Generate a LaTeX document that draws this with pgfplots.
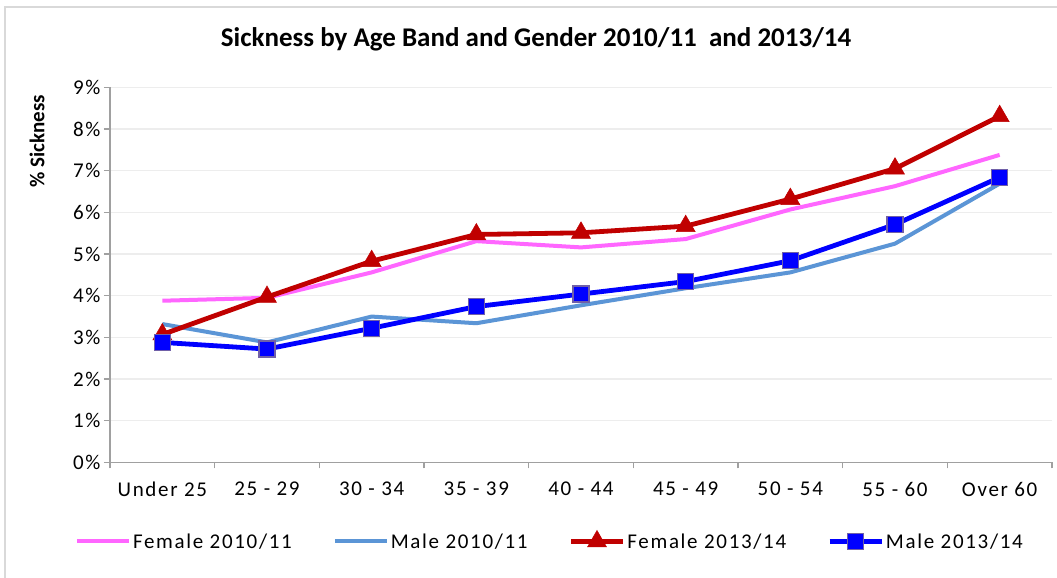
\documentclass[border=0pt]{standalone}
\usepackage{fontspec}
\setmainfont{Carlito}
\newfontfamily\spacedfont{Carlito}[LetterSpace=8]
\usepackage{pgfplots}
\pgfplotsset{compat=1.18}
\definecolor{femaleA}{HTML}{FF66FF}
\definecolor{maleA}{HTML}{5B95D6}
\definecolor{femaleB}{HTML}{C00000}
\definecolor{maleB}{HTML}{0000FF}
\definecolor{markedge}{HTML}{7060A8}
\definecolor{gridgray}{HTML}{EDEDED}
\definecolor{axisgray}{HTML}{A0A0A0}
\definecolor{framegray}{HTML}{D9D9D9}

\begin{document}
\begin{tikzpicture}[x=1pt,y=1pt]
\useasboundingbox (0,0) rectangle (1057,578);
\fill[white] (0,0) rectangle (1057,578);
\draw[framegray, line width=1.5pt] (5,-10) -- (5,571) -- (1070,571);
\begin{axis}[
  at={(110pt,115.6pt)}, anchor=south west,
  scale only axis, width=942pt, height=375pt,
  xmin=-0.5, xmax=8.5, ymin=0, ymax=9,
  axis x line*=bottom, axis y line*=left,
  axis line style={axisgray, line width=1.5pt},
  tick align=outside,
  major tick length=6pt,
  tick style={axisgray, line width=1.5pt},
  ytick={0,...,9},
  yticklabels={0\%,1\%,2\%,3\%,4\%,5\%,6\%,7\%,8\%,9\%},
  ymajorgrids,
  major grid style={gridgray, line width=1.2pt},
  xtick={-0.5,0.5,...,8.5},
  xticklabels={},
  extra x ticks={0,1,2,3,4,5,6,7,8},
  extra x tick labels={Under 25,25 - 29,30 - 34,35 - 39,40 - 44,45 - 49,50 - 54,55 - 60,Over 60},
  extra x tick style={major tick length=0pt, grid=none, xticklabel style={yshift=-16pt}},
  ticklabel style={font=\spacedfont\fontsize{21}{24}\selectfont, black},
  legend style={at={(0.467,-0.2096)}, anchor=center, draw=none, fill=none,
    legend columns=4, font=\spacedfont\fontsize{21}{24}\selectfont,
    /tikz/every even column/.append style={column sep=39pt}},
  legend image code/.code={\draw[mark repeat=2,mark phase=2,#1] plot coordinates {(0pt,0pt)(26pt,0pt)(52pt,0pt)};},
]
\addplot[femaleA, line width=4pt, no markers] coordinates {
  (0,3.88)(1,3.95)(2,4.56)(3,5.31)(4,5.16)(5,5.36)(6,6.07)(7,6.63)(8,7.38)};
\addlegendentry{Female 2010/11}
\addplot[maleA, line width=4pt, no markers] coordinates {
  (0,3.32)(1,2.88)(2,3.50)(3,3.34)(4,3.77)(5,4.18)(6,4.56)(7,5.25)(8,6.69)};
\addlegendentry{Male 2010/11}
\addplot[femaleB, line width=4.8pt, mark=triangle*, mark size=11pt,
  mark options={solid, fill=femaleB, draw=femaleB, line width=0.5pt}] coordinates {
  (0,3.07)(1,3.97)(2,4.83)(3,5.47)(4,5.51)(5,5.67)(6,6.32)(7,7.05)(8,8.31)};
\addlegendentry{Female 2013/14}
\addplot[maleB, line width=4.8pt, mark=square*, mark size=8pt,
  mark options={solid, fill=maleB, draw=markedge, line width=1.2pt}] coordinates {
  (0,2.88)(1,2.72)(2,3.22)(3,3.74)(4,4.04)(5,4.34)(6,4.84)(7,5.71)(8,6.84)};
\addlegendentry{Male 2013/14}
\end{axis}
\node[font=\bfseries\fontsize{27}{30}\selectfont] at (536,539) {Sickness by Age Band and Gender 2010/11 \ and 2013/14};
\node[rotate=90, font=\bfseries\fontsize{21}{24}\selectfont] at (37,437) {\% Sickness};
\end{tikzpicture}
\end{document}
